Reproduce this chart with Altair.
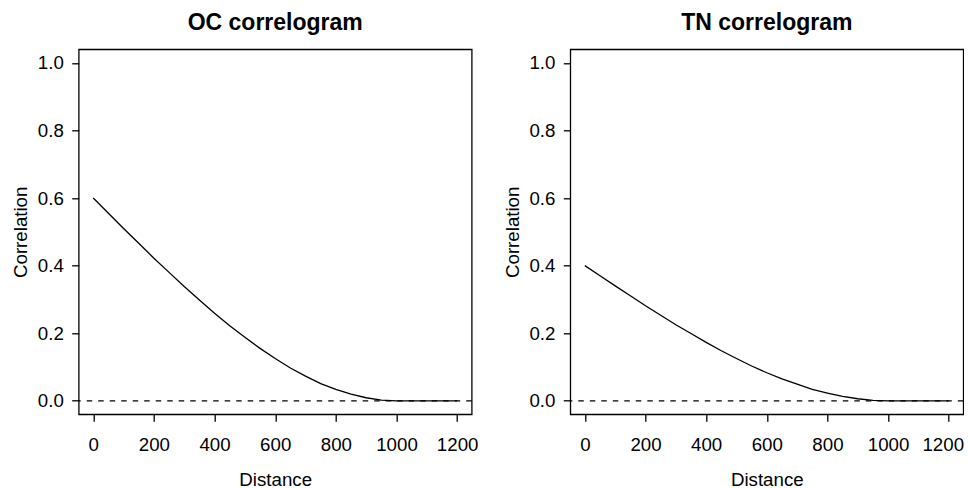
import altair as alt
import pandas as pd

# Values
distance = [0, 50, 100, 150, 200, 250, 300, 350, 400, 450, 500, 550, 600,
            650, 700, 750, 800, 850, 900, 950, 1000, 1050, 1100, 1150, 1200]
oc_corr = [0.600, 0.555, 0.510, 0.466, 0.422, 0.380, 0.338, 0.298, 0.259,
           0.222, 0.188, 0.155, 0.125, 0.097, 0.073, 0.051, 0.034, 0.020,
           0.009, 0.002, 0.000, 0.000, 0.000, 0.000, 0.000]
tn_corr = [0.400, 0.370, 0.340, 0.311, 0.281, 0.253, 0.225, 0.199, 0.173,
           0.148, 0.125, 0.103, 0.083, 0.065, 0.049, 0.034, 0.023, 0.013,
           0.006, 0.0015, 0.000, 0.000, 0.000, 0.000, 0.000]
zero_line = [0.0]
panel_titles = ["OC correlogram", "TN correlogram"]
x_ticks = [0, 200, 400, 600, 800, 1000, 1200]
y_ticks = [0.0, 0.2, 0.4, 0.6, 0.8, 1.0]
x_domain = [-48, 1248]
y_domain = [-0.04, 1.04]

FONT = "Liberation Sans"
FS = 18.7


def panel(title, values, last_label_shift=0):
    df = pd.DataFrame({"Distance": distance, "Correlation": values})
    xs = alt.Scale(domain=x_domain, nice=False, zero=False)
    ys = alt.Scale(domain=y_domain, nice=False, zero=False)
    y_axis = alt.Axis(values=y_ticks, title="Correlation", format=".1f",
                      labelPadding=8.4, titleBaseline="alphabetic",
                      titleX=-52.2)
    x_axis_kw = dict(values=x_ticks, title="Distance", format="d",
                     labelBaseline="alphabetic", labelPadding=29.4,
                     titleBaseline="alphabetic", titleY=70.7)
    if last_label_shift:
        x_axis_kw["labelOffset"] = {
            "condition": {"test": "datum.value == 1200", "value": last_label_shift},
            "value": 0,
        }
    line = alt.Chart(df).mark_line(color="black", strokeWidth=1.3).encode(
        x=alt.X("Distance:Q", scale=xs, axis=alt.Axis(**x_axis_kw)),
        y=alt.Y("Correlation:Q", scale=ys, axis=y_axis),
    )
    zero = alt.Chart(pd.DataFrame({"Correlation": zero_line})).mark_rule(
        color="black", strokeDash=[5.5, 6], strokeWidth=1.3
    ).encode(y=alt.Y("Correlation:Q", scale=ys, axis=y_axis))
    return alt.layer(line, zero).properties(
        width=393, height=365, title=alt.TitleParams(title)
    )


chart = alt.hconcat(
    panel(panel_titles[0], oc_corr),
    panel(panel_titles[1], tn_corr, last_label_shift=-6),
    spacing=98.6,
    bounds="flush",
).properties(
    autosize=alt.AutoSizeParams(type="none"),
    padding={"left": 70.7, "top": 41.3, "right": 885.3, "bottom": 430.7},
    background="white",
).configure_view(
    stroke="black", strokeWidth=1.3
).configure_axis(
    domain=False, grid=False, tickColor="black", tickSize=7, tickWidth=1.3,
    labelFont=FONT, labelFontSize=FS, labelColor="black",
    titleFont=FONT, titleFontSize=FS, titleFontWeight="normal", titleColor="black",
).configure_title(
    font=FONT, fontSize=23, fontWeight="bold", anchor="middle",
    baseline="alphabetic", offset=14.5, color="black",
)

chart.save("out.html", embed_options={"renderer": "svg", "actions": False})
